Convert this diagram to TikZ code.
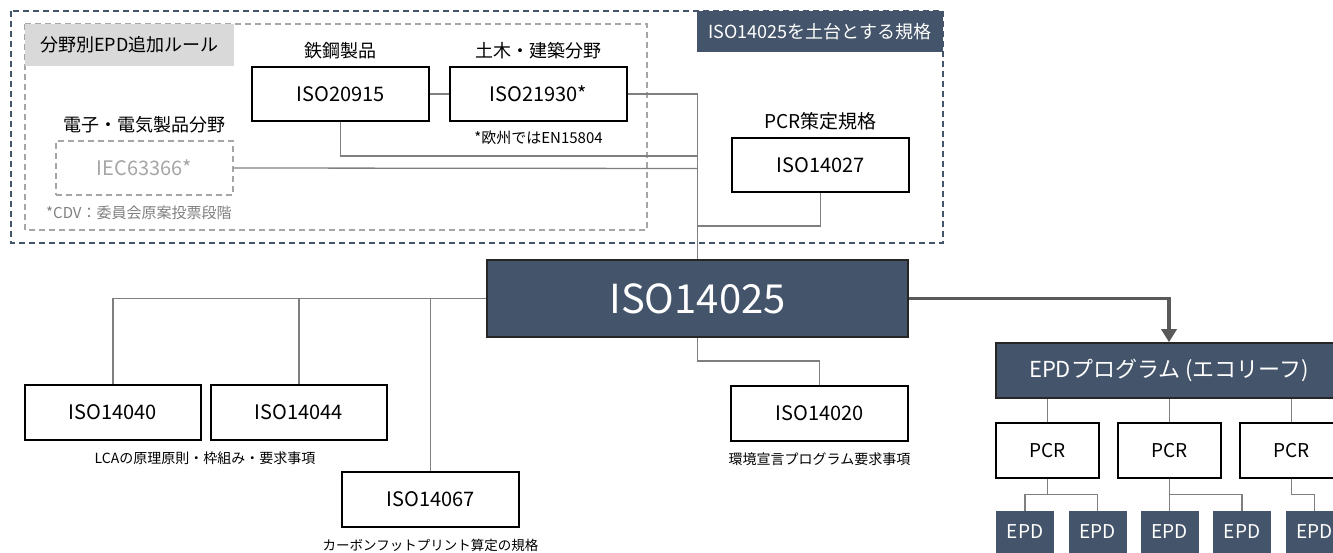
\documentclass[tikz,border=0pt]{standalone}
\usepackage{fontspec}
\setmainfont{Noto Sans CJK JP}
\definecolor{slate}{HTML}{44546A}
\definecolor{lnkgray}{HTML}{7F7F7F}
\definecolor{arrgray}{HTML}{595959}
\definecolor{softgray}{HTML}{A6A6A6}
\definecolor{tagfill}{HTML}{D9D9D9}
\usetikzlibrary{arrows.meta,positioning}
\newcommand{\fs}[1]{\fontsize{#1}{#1}\selectfont}

\begin{document}
\begin{tikzpicture}[x=1pt, y=-1pt,
  box/.style={draw=black, line width=1.2pt, fill=white, inner sep=0pt,
    minimum width=177pt, minimum height=54pt, font=\fs{20}},
  darkbox/.style={draw=black!85, line width=1.6pt, fill=slate, text=white, inner sep=0pt},
  epdbox/.style={fill=slate, text=white, inner sep=0pt, minimum width=58pt,
    minimum height=42pt, font=\fs{19}},
  pcrbox/.style={box, minimum width=103pt, minimum height=55pt, font=\fs{19}},
  head/.style={font=\fs{18}, inner sep=2pt},
  note/.style={font=\fs{14}, inner sep=2pt},
  lnk/.style={draw=lnkgray, line width=1.3pt},
  arr/.style={draw=arrgray, line width=3.6pt, -{Triangle[length=13pt,width=15pt]}}]
\useasboundingbox (0,0) rectangle (1333,553);
\clip (0,0) rectangle (1333,553);
% frames of the standards built on ISO14025
\draw[slate, line width=1.4pt, dash pattern=on 6pt off 4pt] (11,11) rectangle (943,243);
\draw[softgray, line width=1.4pt, dash pattern=on 6pt off 4pt] (25,24) rectangle (647,230);
\node[fill=slate, text=white, minimum width=246pt, minimum height=41pt, inner sep=0pt,
  font=\fs{18}] (tagbase) at (820,31.5) {ISO14025を土台とする規格};
\node[fill=tagfill, minimum width=209pt, minimum height=42pt, inner sep=0pt,
  font=\fs{18}] (tagsector) at (129.5,45) {分野別EPD追加ルール};
% sector rules
\node[box] (s20915) at (340.5,94) {ISO20915};
\node[head, above=5pt of s20915] (h20915) {鉄鋼製品};
\node[box] (s21930) at (538.5,94) {ISO21930*};
\node[head, above=5pt of s21930] (h21930) {土木・建築分野};
\node[note, font=\fs{15}, below=7pt of s21930] (n21930) {*欧州ではEN15804};
\node[box, draw=softgray, dashed, dash pattern=on 6pt off 4pt, line width=1.6pt,
  text=softgray] (iec) at (144.5,168) {IEC63366*};
\node[head, above=5pt of iec] (hiec) {電子・電気製品分野};
\node[note, text=lnkgray, anchor=west, font=\fs{15}] (niec) at (44,213) {*CDV：委員会原案投票段階};
\node[box] (s14027) at (820.5,165) {ISO14027};
\node[head, font=\fs{19}, above=5pt of s14027] (h14027) {PCR策定規格};
% core standard
\node[darkbox, minimum width=421pt, minimum height=77pt, font=\fs{40}] (s14025) at (697.5,298.5) {ISO14025};
\node[box, minimum width=176pt, minimum height=55pt] (s14040) at (113,412.5) {ISO14040};
\node[box, minimum width=176pt, minimum height=55pt] (s14044) at (299,412.5) {ISO14044};
\node[note] (nlca) at (205,458) {LCAの原理原則・枠組み・要求事項};
\node[box, minimum height=55pt] (s14067) at (430.5,499.5) {ISO14067};
\node[note, font=\fs{13.5}] (ncfp) at (430.5,545) {カーボンフットプリント算定の規格};
\node[box, minimum height=55pt] (s14020) at (819.5,413.5) {ISO14020};
\node[note] (n14020) at (819.5,459) {環境宣言プログラム要求事項};
% EPD programme
\node[darkbox, minimum width=346pt, minimum height=55pt, font=\fs{22}] (prog) at (1169,370.5) {EPDプログラム (エコリーフ)};
\node[pcrbox] (pcr1) at (1047.5,450.5) {PCR};
\node[pcrbox] (pcr2) at (1169.5,450.5) {PCR};
\node[pcrbox] (pcr3) at (1291.5,450.5) {PCR};
\node[epdbox] (epd1) at (1025,532) {EPD};
\node[epdbox] (epd2) at (1097.5,532) {EPD};
\node[epdbox] (epd3) at (1169.5,532) {EPD};
\node[epdbox] (epd4) at (1242,532) {EPD};
\node[epdbox] (epd5) at (1314.5,532) {EPD};
\coordinate (j20915) at (697.5,156);
\coordinate (jiec) at (697.5,168.5);
\coordinate (j14027) at (697.5,226);
\coordinate (j14020) at (697.5,361);
% connectors
\draw[lnk] (s20915.east) -- (s21930.west);
\draw[lnk] (s21930.east) -| (s14025.north);
\draw[lnk] (s20915.south) |- (j20915);
\draw[lnk] (iec.east) -- (jiec);
\draw[lnk] (s14027.south) |- (j14027);
\draw[lnk] (s14025.west) -| (s14040.north);
\draw[lnk] (s14025.west) -| (s14044.north);
\draw[lnk] (s14025.west) -| (s14067.north);
\draw[lnk] (s14025.south) -- (j14020) -| (s14020.north);
\draw[arr] (s14025.east) -| (prog.north);
\draw[lnk] (prog.south -| pcr1.north) -- (pcr1.north);
\draw[lnk] (prog.south -| pcr2.north) -- (pcr2.north);
\draw[lnk] (prog.south -| pcr3.north) -- (pcr3.north);
\draw[lnk] (pcr1.south) -- ++(0,16) coordinate (b1) -| (epd1.north) (b1) -| (epd2.north);
\draw[lnk] (pcr2.south) -- (epd3.north) (pcr2.south) ++(0,16) -| (epd4.north);
\draw[lnk] (pcr3.south) -- ++(0,16) -| (epd5.north);
\end{tikzpicture}
\end{document}
